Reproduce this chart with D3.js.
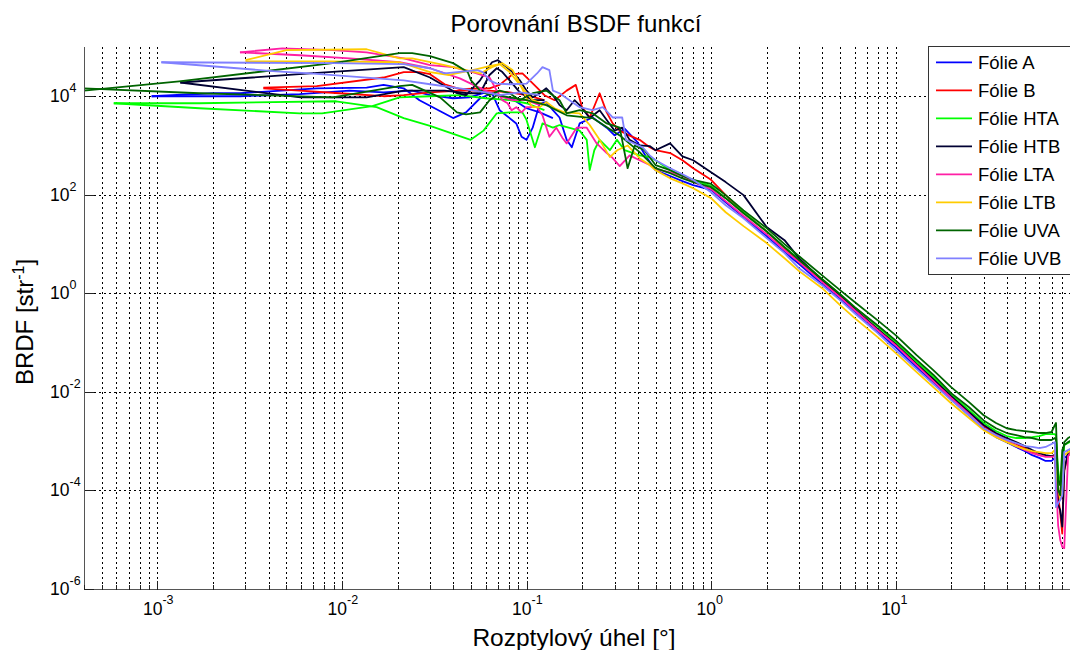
<!DOCTYPE html>
<html>
<head>
<meta charset="utf-8">
<script src="https://cdn.jsdelivr.net/npm/d3@7"></script>
<style>
  body { margin: 0; background: #fff; }
  text { font-family: "Liberation Sans", Arial, Helvetica, sans-serif; fill: #000; }
</style>
</head>
<body>
<svg id="chart" width="1070" height="650"></svg>
<script>
// ---- Axis limits and ticks ----
const xDomain = [4e-4, 90];
const yDomain = [1e-6, 1e5];
const xLabelTicks = [1e-3, 1e-2, 1e-1, 1, 10];
const yLabelTicks = [1e-6, 1e-4, 1e-2, 1, 1e2, 1e4];

// ---- Series ----
const seriesNames = ["Fólie A", "Fólie B", "Fólie HTA", "Fólie HTB", "Fólie LTA", "Fólie LTB", "Fólie UVA", "Fólie UVB"];

// Common angle grid for the smooth decay part (degrees)
const tailAngles = [0.5, 0.6, 0.7, 0.8, 1, 1.2, 1.5, 2, 2.5, 3, 4, 5, 6, 8, 10, 13, 16, 20, 25, 30, 35, 40, 45, 50, 55, 60, 65, 70, 73, 74, 76, 78, 80, 82, 86, 90];

// BRDF on the tail grid
const tailA   = [315, 240, 188, 156, 125, 70, 35, 14.4, 6.8, 3.9, 1.52, 0.76, 0.41, 0.16, 0.080, 0.031, 0.0156, 0.0070, 0.0033, 0.00173, 0.00119, 0.00094, 0.00075, 0.00062, 0.00051, 0.00045, 0.00039, 0.00039, 0.00045, 0.00025, 7.2e-5, 6.3e-5, 0.00016, 0.00045, 0.00051, 0.00059];
const tailB   = [800, 700, 500, 345, 200, 98, 44, 18, 8.2, 4.3, 1.75, 0.87, 0.47, 0.186, 0.092, 0.036, 0.0179, 0.0081, 0.0038, 0.0020, 0.00137, 0.00104, 0.00086, 0.00071, 0.00059, 0.00051, 0.00049, 0.00049, 0.00051, 0.00041, 7.9e-5, 3.4e-5, 1.3e-5, 0.00025, 0.00051, 0.00059];
const tailHTA = [500, 315, 240, 200, 150, 85, 44, 18, 8.6, 4.9, 1.92, 0.95, 0.52, 0.21, 0.101, 0.040, 0.0198, 0.0089, 0.0042, 0.0023, 0.00158, 0.00125, 0.00114, 0.00114, 0.00119, 0.00125, 0.00137, 0.00137, 0.00137, 0.00125, 0.00025, 0.000126, 0.000126, 0.00082, 0.0009, 0.00099];
const tailHTB = [800, 1100, 600, 500, 285, 180, 98, 22, 11.9, 5.1, 1.84, 0.91, 0.47, 0.186, 0.092, 0.036, 0.0179, 0.0081, 0.0038, 0.0021, 0.00144, 0.00114, 0.00094, 0.00078, 0.00065, 0.00056, 0.00051, 0.00049, 0.00051, 0.00025, 5.0e-5, 3.9e-5, 1.8e-5, 0.00025, 0.00059, 0.00065];
const tailLTA = [330, 285, 240, 180, 130, 74, 37, 15.8, 7.5, 4.3, 1.67, 0.83, 0.45, 0.177, 0.088, 0.0345, 0.0163, 0.0074, 0.0035, 0.0018, 0.00125, 0.00099, 0.00078, 0.00065, 0.00056, 0.00051, 0.00047, 0.00047, 0.00049, 0.00016, 1.9e-5, 9.7e-6, 7.0e-6, 6.6e-6, 0.00049, 0.00059];
const tailLTB = [315, 215, 170, 135, 85, 44, 23, 10.4, 5.1, 2.8, 1.26, 0.57, 0.31, 0.128, 0.061, 0.0249, 0.0123, 0.0058, 0.0029, 0.00165, 0.00119, 0.00094, 0.00078, 0.00068, 0.00062, 0.00059, 0.00056, 0.00056, 0.00065, 0.00025, 0.000115, 6.3e-5, 1.0e-4, 0.00051, 0.00059, 0.00065];
const tailUVA = [400, 315, 240, 200, 165, 98, 48, 21, 9.9, 5.6, 2.3, 1.15, 0.66, 0.28, 0.14, 0.055, 0.0273, 0.0123, 0.0061, 0.0033, 0.0023, 0.0018, 0.00165, 0.00158, 0.00151, 0.00144, 0.00144, 0.00151, 0.0021, 0.0023, 1.0e-4, 7.9e-5, 0.00041, 0.00094, 0.00114, 0.00125];
const tailUVA2 = [345, 273, 215, 180, 142, 85, 42, 18, 8.6, 4.7, 1.92, 0.95, 0.52, 0.22, 0.11, 0.044, 0.022, 0.0093, 0.0048, 0.0026, 0.0018, 0.00144, 0.00131, 0.00119, 0.00114, 0.00104, 0.00104, 0.00104, 0.00114, 0.00104, 0.00016, 0.000126, 0.00065, 0.00082, 0.00094, 0.00104];
const tailUVB = [500, 345, 260, 200, 112, 61, 33, 13.1, 6.5, 3.2, 1.45, 0.72, 0.39, 0.154, 0.070, 0.0286, 0.0142, 0.0067, 0.0033, 0.0018, 0.00131, 0.00104, 0.0009, 0.00078, 0.00075, 0.00071, 0.00075, 0.00086, 0.00094, 4.5e-5, 5.4e-5, 6.3e-5, 7.9e-5, 0.00059, 0.00065, 0.00071];

// Small-angle part: [angle, BRDF] pairs, two measurements per sample
const headA = [[9.3e-4,1.0e4],[2.0e-3,1.15e4],[2.8e-3,1.15e4],[7.3e-3,1.45e4],[1.36e-2,1.5e4],[1.68e-2,1.7e4],[2.16e-2,1.45e4],[2.63e-2,8.3e3],[4.0e-2,3.6e3],[4.7e-2,4.7e3],[5.6e-2,9.1e3],[6.5e-2,1.15e4],[7.15e-2,5.2e3],[8.8e-2,2.8e3],[9.4e-2,1.5e3],[0.1,1.3e3],[0.108,2.3e3],[0.118,7.2e3],[0.128,7.6e3],[0.139,5.2e3],[0.151,3.7e3],[0.165,1.3e3],[0.176,920],[0.194,2.8e3],[0.228,3.7e3],[0.272,2.3e3],[0.30,1.6e3],[0.34,2.2e3],[0.40,1.15e3],[0.44,630]];
const headA2 = [[9.3e-4,1.0e4],[2.8e-3,1.0e4],[5.9e-3,1.1e4],[1.1e-2,1.3e4],[1.68e-2,1.2e4],[2.4e-2,1.3e4],[3.0e-2,1.05e4],[4.0e-2,9.1e3],[4.9e-2,9.5e3],[6.0e-2,1.2e4],[7.15e-2,1.05e4],[8.6e-2,8.3e3],[0.1,5.7e3],[0.118,4.7e3],[0.139,3.6e3]];
const headB = [[3.75e-3,1.5e4],[7.3e-3,1.6e4],[1.68e-2,2.4e4],[2.16e-2,3.1e4],[2.63e-2,3.1e4],[3.0e-2,2.8e4],[3.6e-2,1.75e4],[4.35e-2,1.4e4],[5.6e-2,1.45e4],[6.3e-2,1.45e4],[7.15e-2,1.7e4],[8.4e-2,2.8e4],[9.5e-2,2.9e4],[0.104,2.1e4],[0.114,1.5e4],[0.125,1.05e4],[0.142,8.3e3],[0.165,1.3e4],[0.185,1.7e4],[0.20,6.0e3],[0.22,3.7e3],[0.249,1.15e4],[0.272,4.7e3],[0.293,2.8e3],[0.32,2.0e3],[0.36,1.6e3],[0.41,1.3e3],[0.465,920]];
const headB2 = [[3.75e-3,1.45e4],[5.9e-3,1.3e4],[9.7e-3,1.15e4],[1.68e-2,1.0e4],[2.16e-2,1.05e4],[3.0e-2,1.2e4],[4.35e-2,1.3e4],[6.3e-2,1.3e4],[8.1e-2,1.2e4],[0.1,1.05e4],[0.125,8.3e3]];
const headHTA = [[5.8e-4,7.2e3],[1.69e-3,7.2e3],[9.3e-3,7.9e3],[1.54e-2,6.0e3],[2.16e-2,3.6e3],[3.0e-2,2.5e3],[4.98e-2,1.3e3],[5.85e-2,2.0e3],[6.9e-2,4.5e3],[8.1e-2,4.7e3],[9.5e-2,4.7e3],[0.1,3.3e3],[0.111,920],[0.122,2.8e3],[0.139,2.3e3],[0.151,2.6e3],[0.194,2.0e3],[0.212,1.3e3],[0.22,315],[0.233,800],[0.249,1.3e3],[0.283,800],[0.309,1.3e3],[0.34,800],[0.41,630],[0.465,580]];
const headHTA2 = [[5.8e-4,7.2e3],[1.69e-3,5.7e3],[5.9e-3,4.5e3],[7.8e-3,4.5e3],[1.46e-2,6.3e3],[2.05e-2,9.5e3],[3.0e-2,1.0e4],[4.35e-2,1.05e4],[6.0e-2,9.1e3],[8.1e-2,8.3e3],[0.1,7.2e3],[0.125,5.2e3]];
const headHTB = [[1.33e-3,1.9e4],[6.7e-3,2.9e4],[2.16e-2,3.9e4],[3.0e-2,2.4e4],[4.2e-2,1.15e4],[4.7e-2,1.05e4],[5.6e-2,2.1e4],[6.5e-2,4.9e4],[7.0e-2,5.4e4],[7.8e-2,3.9e4],[8.4e-2,3.1e4],[9.2e-2,2.1e4],[0.1,1.3e4],[0.108,9.5e3],[0.118,1.15e4],[0.128,1.45e4],[0.139,1.05e4],[0.151,6.6e3],[0.165,5.2e3],[0.182,8.3e3],[0.194,6.6e3],[0.22,3.6e3],[0.249,5.2e3],[0.272,3.3e3],[0.30,2.0e3],[0.33,2.3e3],[0.362,1.3e3],[0.41,1.0e3],[0.465,970]];
const headHTB2 = [[1.33e-3,1.9e4],[5.96e-3,9.5e3],[1.36e-2,9.5e3],[2.16e-2,1.3e4],[3.6e-2,1.3e4],[4.8e-2,1.15e4],[5.6e-2,1.15e4],[6.3e-2,2.7e4],[6.9e-2,3.7e4],[7.4e-2,3.1e4],[8.1e-2,2.1e4],[9.2e-2,1.2e4],[0.108,8.3e3],[0.125,8.3e3]];
const headLTA = [[2.8e-3,7.8e4],[4.75e-3,9.4e4],[8.9e-3,8.6e4],[1.36e-2,7.8e4],[2.16e-2,5.9e4],[3.0e-2,4.3e4],[4.0e-2,3.9e4],[5.1e-2,3.1e4],[6.3e-2,2.4e4],[6.9e-2,1.3e4],[7.4e-2,8.3e3],[7.9e-2,7.2e3],[8.3e-2,5.2e3],[8.8e-2,6.0e3],[9.4e-2,4.7e3],[0.1,6.0e3],[0.114,6.0e3],[0.122,4.1e3],[0.133,1.5e3],[0.145,2.3e3],[0.157,1.4e3],[0.165,1.1e3],[0.187,2.3e3],[0.212,2.3e3],[0.24,1.1e3],[0.272,700],[0.29,580],[0.32,380],[0.362,630],[0.41,500],[0.465,400]];
const headLTA2 = [[2.8e-3,7.8e4],[5.9e-3,6.8e4],[1.1e-2,5.9e4],[2.05e-2,4.9e4],[3.0e-2,3.7e4],[4.35e-2,2.3e4],[6.0e-2,1.3e4],[7.15e-2,1.0e4],[8.4e-2,8.3e3],[0.1,8.3e3],[0.118,6.6e3]];
const headLTB = [[3.0e-3,5.4e4],[5.0e-3,8.6e4],[1.36e-2,9.0e4],[2.05e-2,5.9e4],[2.4e-2,5.9e4],[3.6e-2,4.3e4],[4.7e-2,3.4e4],[5.6e-2,2.9e4],[6.5e-2,3.9e4],[7.4e-2,4.7e4],[8.4e-2,3.4e4],[9.2e-2,1.8e4],[0.1,9.1e3],[0.108,6.0e3],[0.118,6.0e3],[0.128,7.6e3],[0.142,5.7e3],[0.16,4.7e3],[0.194,4.5e3],[0.22,2.6e3],[0.249,1.3e3],[0.283,580],[0.31,800],[0.353,1.0e3],[0.41,550],[0.465,400]];
const headLTB2 = [[3.0e-3,5.1e4],[8.6e-3,5.1e4],[2.05e-2,4.9e4],[3.0e-2,3.1e4],[3.8e-2,2.7e4],[5.1e-2,3.4e4],[6.3e-2,4.1e4],[7.15e-2,4.5e4],[8.1e-2,3.1e4],[9.2e-2,1.7e4],[0.108,8.3e3],[0.128,6.6e3]];
const headUVA = [[4.0e-4,1.3e4],[1.31e-3,2.0e4],[8.9e-3,4.7e4],[2.05e-2,7.5e4],[2.4e-2,7.5e4],[3.0e-2,6.5e4],[4.0e-2,4.7e4],[4.8e-2,3.1e4],[5.0e-2,2.1e4],[5.6e-2,1.3e4],[6.3e-2,1.05e4],[7.15e-2,1.3e4],[8.1e-2,1.15e4],[9.2e-2,8.3e3],[0.108,1.15e4],[0.128,1.3e4],[0.151,8.3e3],[0.165,4.5e3],[0.194,5.2e3],[0.228,4.5e3],[0.272,2.8e3],[0.32,2.3e3],[0.353,345],[0.386,1.0e3],[0.436,800]];
const headUVA2 = [[4.0e-4,1.45e4],[1.69e-3,1.15e4],[8.9e-3,9.5e3],[2.05e-2,1.6e4],[2.4e-2,1.7e4],[3.4e-2,9.5e3],[4.2e-2,4.7e3],[4.7e-2,4.3e3],[5.6e-2,4.7e3],[6.3e-2,8.3e3],[6.9e-2,1.05e4],[8.1e-2,9.5e3],[0.1,8.3e3],[0.128,6.6e3],[0.165,4.1e3],[0.228,3.6e3],[0.32,1.6e3],[0.41,730]];
const headUVB = [[1.05e-3,4.9e4],[8.9e-3,4.7e4],[2.16e-2,4.5e4],[3.0e-2,3.7e4],[3.6e-2,2.9e4],[5.4e-2,3.4e4],[5.8e-2,3.1e4],[6.3e-2,2.1e4],[6.9e-2,1.8e4],[8.1e-2,1.75e4],[0.1,1.8e4],[0.114,2.9e4],[0.122,3.9e4],[0.133,3.4e4],[0.139,1.3e4],[0.151,1.15e4],[0.171,8.3e3],[0.194,6.0e3],[0.228,5.2e3],[0.259,6.0e3],[0.293,3.7e3],[0.33,3.7e3],[0.346,1.3e3],[0.426,920],[0.465,630]];
const headUVB2 = [[1.05e-3,4.9e4],[4.4e-3,3.2e4],[6.7e-3,2.9e4],[2.16e-2,2.1e4],[3.0e-2,1.75e4],[4.35e-2,1.45e4],[6.0e-2,1.2e4],[7.15e-2,1.05e4],[9.2e-2,1.2e4],[0.118,1.05e4]];

// ---- Styling ----
const seriesColors = ["#0000ff", "#ff0000", "#00ff00", "#000033", "#ff1fa5", "#ffcc00", "#006400", "#8080ff"];

// ---- Assemble traces ----
const withTail = (head, tail) => head.concat(tailAngles.map((a, i) => [a, tail[i]]));
const traces = [
  [withTail(headA, tailA), headA2],
  [withTail(headB, tailB), headB2],
  [withTail(headHTA, tailHTA), headHTA2],
  [withTail(headHTB, tailHTB), headHTB2],
  [withTail(headLTA, tailLTA), headLTA2],
  [withTail(headLTB, tailLTB), headLTB2],
  [withTail(headUVA, tailUVA), withTail(headUVA2, tailUVA2)],
  [withTail(headUVB, tailUVB), headUVB2]
];

// ---- Layout ----
const svg = d3.select("#chart");
const area = { left: 84, top: 47, right: 1071.7, bottom: 588.5 };

const x = d3.scaleLog().domain(xDomain).range([area.left, area.right]);
const y = d3.scaleLog().domain(yDomain).range([area.bottom, area.top]);

const px = v => Math.round(v) + 0.5;

// ---- Grid ----
const grid = svg.append("g")
  .attr("stroke", "#000")
  .attr("stroke-width", 1)
  .attr("stroke-dasharray", "2,3")
  .attr("shape-rendering", "crispEdges");

x.ticks().filter(v => v > xDomain[0] * 1.001 && v < xDomain[1]).forEach(v => {
  grid.append("line")
    .attr("x1", px(x(v))).attr("x2", px(x(v)))
    .attr("y1", area.top).attr("y2", area.bottom);
});
yLabelTicks.filter(v => v > yDomain[0]).forEach(v => {
  grid.append("line")
    .attr("x1", area.left).attr("x2", area.right)
    .attr("y1", px(y(v))).attr("y2", px(y(v)));
});

// ---- Curves ----
svg.append("defs").append("clipPath").attr("id", "plotClip")
  .append("rect")
  .attr("x", area.left).attr("y", area.top)
  .attr("width", area.right - area.left).attr("height", area.bottom - area.top);

const line = d3.line().x(d => x(d[0])).y(d => y(d[1]));
const curves = svg.append("g").attr("clip-path", "url(#plotClip)");
traces.forEach((pair, i) => {
  pair.forEach(tr => {
    curves.append("path")
      .datum(tr)
      .attr("d", line)
      .attr("fill", "none")
      .attr("stroke", seriesColors[i])
      .attr("stroke-width", 1.8)
      .attr("stroke-linejoin", "round");
  });
});

// ---- Axes ----
const axes = svg.append("g").attr("shape-rendering", "crispEdges");
axes.append("line")
  .attr("x1", px(area.left)).attr("x2", px(area.left))
  .attr("y1", area.top).attr("y2", px(area.bottom))
  .attr("stroke", "#555");
axes.append("line")
  .attr("x1", px(area.left)).attr("x2", area.right)
  .attr("y1", px(area.bottom)).attr("y2", px(area.bottom))
  .attr("stroke", "#555");

// x tick marks
x.ticks().filter(v => v < xDomain[1]).forEach(v => {
  const major = Math.abs(Math.log10(v) - Math.round(Math.log10(v))) < 1e-9;
  axes.append("line")
    .attr("x1", px(x(v))).attr("x2", px(x(v)))
    .attr("y1", px(area.bottom)).attr("y2", px(area.bottom) - (major ? 9 : 5))
    .attr("stroke", "#222");
});
// y tick marks
yLabelTicks.forEach(v => {
  axes.append("line")
    .attr("x1", px(area.left)).attr("x2", px(area.left) + 9)
    .attr("y1", px(y(v))).attr("y2", px(y(v)))
    .attr("stroke", "#222");
});

// ---- Tick labels (10 with superscript exponent) ----
const expOf = v => Math.round(Math.log10(v));

const xLab = svg.append("g");
xLabelTicks.forEach(v => {
  const cx = x(v);
  xLab.append("text").attr("x", cx + 5).attr("y", 614.5)
    .attr("text-anchor", "end").attr("font-size", 17.5).text("10");
  xLab.append("text").attr("x", cx + 5).attr("y", 604)
    .attr("text-anchor", "start").attr("font-size", 12.5).text(String(expOf(v)));
});

const yLab = svg.append("g");
yLabelTicks.forEach(v => {
  const cy = y(v);
  yLab.append("text").attr("x", 69.5).attr("y", cy + 6)
    .attr("text-anchor", "end").attr("font-size", 17.5).text("10");
  yLab.append("text").attr("x", 69.5).attr("y", cy - 4)
    .attr("text-anchor", "start").attr("font-size", 12.5).text(String(expOf(v)));
});

// ---- Titles ----
svg.append("text")
  .attr("x", 576).attr("y", 32)
  .attr("text-anchor", "middle").attr("font-size", 24)
  .text("Porovnání BSDF funkcí");

svg.append("text")
  .attr("x", 574).attr("y", 646)
  .attr("text-anchor", "middle").attr("font-size", 24.5)
  .text("Rozptylový úhel [°]");

const yTitle = svg.append("text")
  .attr("transform", "translate(33,322) rotate(-90)")
  .attr("text-anchor", "middle").attr("font-size", 24);
yTitle.append("tspan").text("BRDF [str");
yTitle.append("tspan").attr("font-size", 16).attr("dy", -9).text("-1");
yTitle.append("tspan").attr("dy", 9).text("]");

// ---- Legend ----
const legend = svg.append("g");
legend.append("rect")
  .attr("x", 928.5).attr("y", 46.5)
  .attr("width", 170).attr("height", 228)
  .attr("fill", "#fff").attr("stroke", "#333").attr("stroke-width", 1)
  .attr("shape-rendering", "crispEdges");
seriesNames.forEach((name, i) => {
  const ly = 62.3 + i * 28;
  legend.append("line")
    .attr("x1", 936).attr("x2", 972)
    .attr("y1", ly).attr("y2", ly)
    .attr("stroke", seriesColors[i]).attr("stroke-width", 1.8);
  legend.append("text")
    .attr("x", 978).attr("y", ly + 6.5)
    .attr("font-size", 18.5)
    .text(name);
});
</script>
</body>
</html>
